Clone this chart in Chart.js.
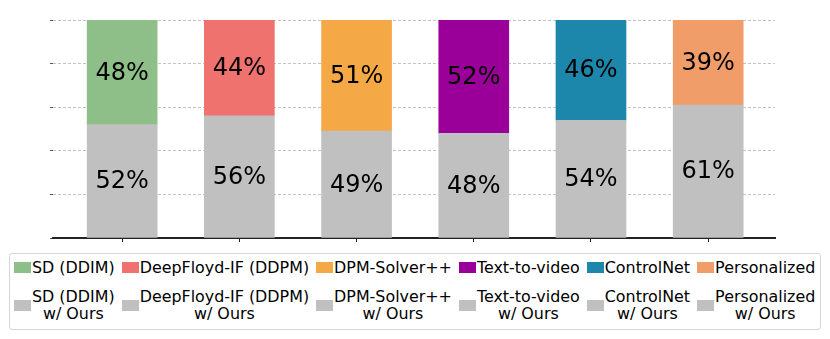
<!DOCTYPE html>
<html>
<head>
<meta charset="utf-8">
<script src="https://cdn.jsdelivr.net/npm/chart.js@4/dist/chart.umd.min.js"></script>
<style>
  body { margin: 0; background: #fff; font-family: "DejaVu Sans", sans-serif; }
  #wrap { position: relative; width: 830px; height: 250px; }
  #legend {
    position: absolute; left: 9px; top: 253px; width: 812px; height: 77px;
    box-sizing: border-box; border: 1px solid #d6d6d6; border-radius: 3px;
    display: flex; gap: 7px; padding: 1px 0 0 4px; font-size: 15.9px; color: #000;
  }
  .col { display: flex; flex-direction: column; }
  .item { display: flex; align-items: center; }
  .item.top { height: 24px; }
  .item.bot { height: 42px; margin-top: 5px; }
  .sw { width: 17px; height: 11px; margin-right: 1px; flex: none; }
  .item.bot .txt { text-align: center; line-height: 17px; }
</style>
</head>
<body>
<div id="wrap"><canvas id="chart"></canvas></div>
<div id="legend"></div>
<script>
// Categorías y valores (%)
const methods = ['SD (DDIM)', 'DeepFloyd-IF (DDPM)', 'DPM-Solver++', 'Text-to-video', 'ControlNet', 'Personalized'];
const oursValues = [52, 56, 49, 48, 54, 61];
const baseValues = [48, 44, 51, 52, 46, 39];
const baseColors = ['#8fbf88', '#ef726f', '#f4a846', '#9a0099', '#1c87ab', '#f19d6a'];
const oursColor = '#c0c0c0';
const yTicks = [0, 20, 40, 60, 80, 100];

// Etiquetas de porcentaje dentro de cada segmento
const segmentLabels = {
  id: 'segmentLabels',
  afterDatasetsDraw(chart) {
    const ctx = chart.ctx;
    ctx.save();
    ctx.font = '24px "DejaVu Sans"';
    ctx.fillStyle = '#000';
    ctx.textAlign = 'center';
    ctx.textBaseline = 'middle';
    chart.data.datasets.forEach((ds, di) => {
      chart.getDatasetMeta(di).data.forEach((bar, i) => {
        const p = bar.getProps(['x', 'y', 'base'], true);
        ctx.fillText(ds.data[i].y + '%', p.x, (p.y + p.base) / 2 + 1);
      });
    });
    ctx.restore();
  }
};

new Chart(document.getElementById('chart'), {
  type: 'bar',
  data: {
    datasets: [
      {
        label: 'w/ Ours',
        data: oursValues.map((v, i) => ({ x: i, y: v })),
        backgroundColor: oursColor,
        barThickness: 70
      },
      {
        label: 'base',
        data: baseValues.map((v, i) => ({ x: i, y: v })),
        backgroundColor: baseColors,
        barThickness: 70
      }
    ]
  },
  options: {
    responsive: true,
    maintainAspectRatio: false,
    animation: false,
    layout: { padding: { left: 50, right: 55, top: 20, bottom: 8 } },
    plugins: { legend: { display: false }, tooltip: { enabled: false } },
    scales: {
      x: {
        type: 'linear',
        stacked: true,
        offset: false,
        min: -0.59,
        max: 5.57,
        afterBuildTicks: (axis) => { axis.ticks = methods.map((m, i) => ({ value: i })); },
        ticks: { display: false },
        grid: { offset: false, drawOnChartArea: false, drawTicks: true, tickLength: 4, color: '#222', tickWidth: 1 },
        border: { display: true, color: '#222', width: 2 }
      },
      y: {
        stacked: true,
        min: 0,
        max: 100,
        afterBuildTicks: (axis) => { axis.ticks = yTicks.map(v => ({ value: v })); },
        ticks: { display: false },
        grid: { color: '#c4c4c4', lineWidth: 1, drawTicks: true, tickLength: 3, tickColor: '#555', tickBorderDash: [] },
        border: { display: false, dash: [3, 2] }
      }
    }
  },
  plugins: [segmentLabels]
});

// Leyenda en HTML (etiquetas de dos líneas)
const legend = document.getElementById('legend');
methods.forEach((m, i) => {
  const col = document.createElement('div');
  col.className = 'col';
  col.innerHTML =
    '<div class="item top"><span class="sw" style="background:' + baseColors[i] + '"></span><span class="txt">' + m + '</span></div>' +
    '<div class="item bot"><span class="sw" style="background:' + oursColor + '"></span><span class="txt">' + m + '<br>w/ Ours</span></div>';
  legend.appendChild(col);
});
</script>
</body>
</html>
